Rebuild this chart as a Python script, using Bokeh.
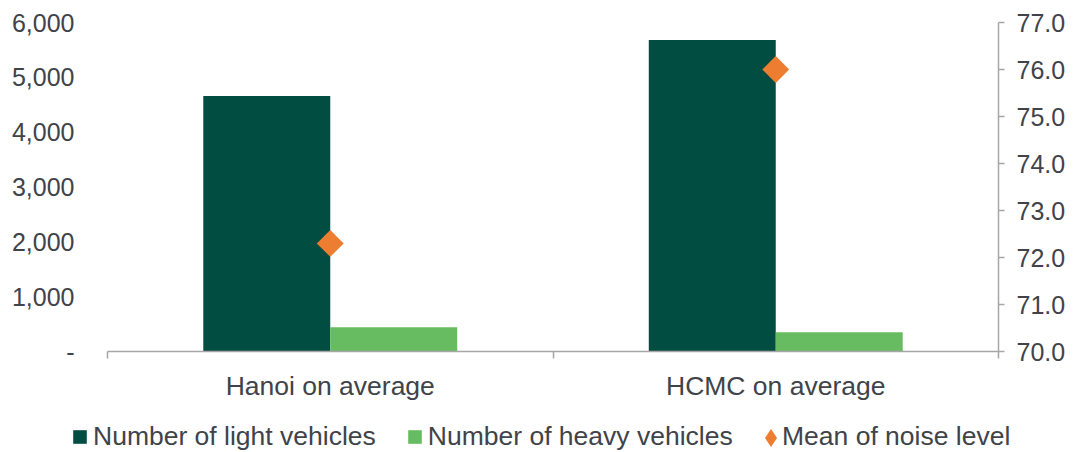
import math

from bokeh.plotting import figure
from bokeh.models import (ColumnDataSource, Range1d, LinearAxis, FixedTicker,
                          Legend, LegendItem)
from bokeh.transform import dodge
from bokeh.embed import file_html
from bokeh.resources import INLINE

# --- data -------------------------------------------------------------
categories = ["Hanoi on average", "HCMC on average"]
light_vehicles = [4660, 5680]
heavy_vehicles = [440, 350]
noise_level = [72.3, 76.0]

count_ticks = [0, 1000, 2000, 3000, 4000, 5000, 6000]
count_tick_labels = ["-", "1,000", "2,000", "3,000", "4,000", "5,000", "6,000"]
noise_ticks = [70, 71, 72, 73, 74, 75, 76, 77]
noise_tick_labels = ["70.0", "71.0", "72.0", "73.0", "74.0", "75.0", "76.0", "77.0"]

# --- style ------------------------------------------------------------
DARK_GREEN = "#024D41"
LIGHT_GREEN = "#67BC61"
ORANGE = "#ED7D31"
TEXT = "#404349"
AXIS = "#a6a6a6"
FONT = "Liberation Sans"

# page size and the pixel box that holds the bars; the frame covers the
# whole page so that the axes and legend can sit in the margins around it
W, H = 1078, 452
BOX_L, BOX_R, BOX_T, BOX_B = 107, 998, 22, 351

n = len(categories)
px_x = (BOX_R - BOX_L) / n
px_y = (BOX_B - BOX_T) / (count_ticks[-1] - count_ticks[0])
px_n = (BOX_B - BOX_T) / (noise_ticks[-1] - noise_ticks[0])

x_range = Range1d(-BOX_L / px_x, n + (W - BOX_R) / px_x)
y_range = Range1d(count_ticks[0] - (H - BOX_B) / px_y, count_ticks[-1] + BOX_T / px_y)
noise_range = Range1d(noise_ticks[0] - (H - BOX_B) / px_n, noise_ticks[-1] + BOX_T / px_n)

centers = [i + 0.5 for i in range(n)]
src = ColumnDataSource(dict(pos=centers, light=light_vehicles,
                            heavy=heavy_vehicles, noise=noise_level))

p = figure(width=W, height=H, output_backend="svg", toolbar_location=None,
           tools="", x_range=x_range, y_range=y_range,
           min_border=0, min_border_left=0, min_border_right=0,
           min_border_top=0, min_border_bottom=0)
p.extra_y_ranges = {"noise": noise_range}

p.outline_line_color = None
p.xgrid.visible = False
p.ygrid.visible = False
p.background_fill_color = "white"
p.border_fill_color = "white"

bar_w = 0.285
r_light = p.vbar(x=dodge("pos", -bar_w / 2, range=p.x_range), top="light",
                 bottom=count_ticks[0], width=bar_w, source=src,
                 fill_color=DARK_GREEN, line_color=None)
r_heavy = p.vbar(x=dodge("pos", bar_w / 2, range=p.x_range), top="heavy",
                 bottom=count_ticks[0], width=bar_w, source=src,
                 fill_color=LIGHT_GREEN, line_color=None)
r_noise = p.scatter(x="pos", y="noise", source=src, marker="square", size=19,
                    angle=math.pi / 4, fill_color=ORANGE, line_color=None,
                    y_range_name="noise")

# legend swatch for the noise series (a single point with no position,
# so it only shows up in the legend)
r_noise_key = p.scatter(x=[float("nan")], y=[float("nan")], marker="diamond",
                        fill_color=ORANGE, line_color=None)

# --- axes -------------------------------------------------------------
xa = p.xaxis[0]
xa.fixed_location = count_ticks[0]
xa.bounds = (0, n)
xa.ticker = FixedTicker(ticks=centers, minor_ticks=list(range(n + 1)))
xa.major_label_overrides = {c: name for c, name in zip(centers, categories)}
xa.major_tick_in = 0
xa.major_tick_out = 0
xa.minor_tick_in = 0
xa.minor_tick_out = 7
xa.minor_tick_line_color = AXIS
xa.minor_tick_line_width = 1.5
xa.axis_line_color = AXIS
xa.axis_line_width = 1.5
xa.major_label_standoff = 12
xa.major_label_text_font = FONT
xa.major_label_text_font_size = "26.5px"
xa.major_label_text_color = TEXT

ya = p.yaxis[0]
ya.fixed_location = 0
ya.bounds = (count_ticks[0], count_ticks[-1])
ya.ticker = FixedTicker(ticks=count_ticks)
ya.major_label_overrides = dict(zip(count_ticks, count_tick_labels))
ya.axis_line_color = None
ya.major_tick_line_color = None
ya.minor_tick_line_color = None
ya.major_label_standoff = 27
ya.major_label_text_font = FONT
ya.major_label_text_font_size = "25px"
ya.major_label_text_color = TEXT

ra = LinearAxis(y_range_name="noise", ticker=FixedTicker(ticks=noise_ticks))
ra.fixed_location = n
ra.bounds = (noise_ticks[0], noise_ticks[-1])
ra.major_label_overrides = dict(zip(noise_ticks, noise_tick_labels))
ra.axis_line_color = AXIS
ra.axis_line_width = 1.5
ra.major_tick_line_color = AXIS
ra.major_tick_line_width = 1.5
ra.major_tick_in = 0
ra.major_tick_out = 6
ra.minor_tick_line_color = None
ra.major_label_standoff = 12
ra.major_label_text_font = FONT
ra.major_label_text_font_size = "25px"
ra.major_label_text_color = TEXT
p.add_layout(ra, "right")

# --- legends ----------------------------------------------------------
def style_legend(lg):
    lg.border_line_color = None
    lg.background_fill_alpha = 0
    lg.padding = 0
    lg.margin = 0
    lg.orientation = "horizontal"
    lg.label_text_font = FONT
    lg.label_text_font_size = "26.5px"
    lg.label_text_color = TEXT

bars_legend = Legend(items=[LegendItem(label="Number of light vehicles", renderers=[r_light]),
                            LegendItem(label="Number of heavy vehicles", renderers=[r_heavy])],
                     location=(71, 0))
style_legend(bars_legend)
bars_legend.glyph_width = 17
bars_legend.glyph_height = 17
bars_legend.label_standoff = 5
bars_legend.spacing = 30
p.add_layout(bars_legend, "center")

# diamond swatch and its caption are laid out separately so the caption
# sits close to the swatch
noise_key = Legend(items=[LegendItem(label=" ", renderers=[r_noise_key])],
                   location=(748, -8))
style_legend(noise_key)
noise_key.glyph_width = 45
noise_key.glyph_height = 45
noise_key.label_standoff = 0
noise_key.label_width = 0
p.add_layout(noise_key, "center")

noise_caption = Legend(items=[LegendItem(label="Mean of noise level", renderers=[r_noise])],
                       location=(782, 0))
style_legend(noise_caption)
noise_caption.glyph_width = 0
noise_caption.glyph_height = 17
noise_caption.label_standoff = 0
p.add_layout(noise_caption, "center")

open("out.html", "w").write(file_html(p, INLINE))
